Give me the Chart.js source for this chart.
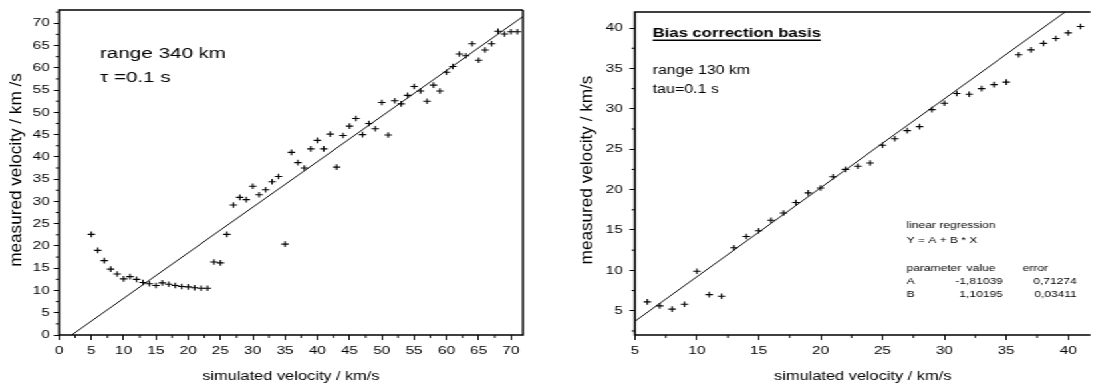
<!DOCTYPE html>
<html>
<head>
<meta charset="utf-8">
<script src="https://cdn.jsdelivr.net/npm/chart.js@4.4.0/dist/chart.umd.min.js"></script>
<style>
html, body { margin: 0; padding: 0; background: #fff; overflow: hidden; }
#wrap { position: absolute; left: 0; top: 0; width: 825px; height: 386px; transform: scaleX(1.33); transform-origin: 0 0; }
#left { position: absolute; left: 0; top: 0; }
#right { position: absolute; left: 421px; top: 0; }
</style>
</head>
<body>
<div id="wrap">
  <canvas id="left" width="414" height="386"></canvas>
  <canvas id="right" width="404" height="386"></canvas>
</div>
<script>
// left panel: range 340 km
const leftSimulated = [5, 6, 7, 8, 9, 10, 11, 12, 13, 14, 15, 16, 17, 18, 19, 20, 21, 22, 23, 24,
  25, 26, 27, 28, 29, 30, 31, 32, 33, 34, 35, 36, 37, 38, 39, 40, 41, 42, 43, 44,
  45, 46, 47, 48, 49, 50, 51, 52, 53, 54, 55, 56, 57, 58, 59, 60, 61, 62, 63, 64,
  65, 66, 67, 68, 69, 70, 71];
const leftMeasured = [22.6, 19.0, 16.7, 14.8, 13.7, 12.6, 13.1, 12.5, 11.8, 11.5, 11.1, 11.7, 11.4, 11.1, 10.9, 10.8, 10.6, 10.5, 10.5, 16.4,
  16.2, 22.6, 29.2, 30.9, 30.4, 33.4, 31.5, 32.6, 34.4, 35.6, 20.4, 41.0, 38.7, 37.5, 41.8, 43.7, 41.8, 45.1, 37.7, 44.8,
  46.9, 48.6, 45.0, 47.5, 46.3, 52.2, 44.9, 52.6, 51.9, 53.8, 55.8, 54.8, 52.5, 56.1, 54.8, 59.0, 60.3, 63.1, 62.7, 65.4,
  61.7, 64.0, 65.4, 68.2, 67.6, 68.1, 68.1];
const leftLineX = [1.96, 71.9];
const leftLineY = [0, 71.55];
const leftXTicks = [0, 5, 10, 15, 20, 25, 30, 35, 40, 45, 50, 55, 60, 65, 70];
const leftYTicks = [0, 5, 10, 15, 20, 25, 30, 35, 40, 45, 50, 55, 60, 65, 70];

// right panel: bias correction basis, range 130 km
const rightSimulated = [6, 7, 8, 9, 10, 11, 12, 13, 14, 15, 16, 17, 18, 19, 20, 21, 22, 23,
  24, 25, 26, 27, 28, 29, 30, 31, 32, 33, 34, 35, 36, 37, 38, 39, 40, 41];
const rightMeasured = [6.1, 5.6, 5.2, 5.8, 9.9, 7.0, 6.8, 12.8, 14.2, 14.9, 16.2, 17.1, 18.4, 19.6, 20.2, 21.6, 22.5, 22.9,
  23.3, 25.5, 26.3, 27.3, 27.8, 29.9, 30.7, 31.9, 31.8, 32.5, 33.0, 33.3, 36.7, 37.3, 38.1, 38.7, 39.4, 40.2];
const rightLineX = [5, 39.76];
const rightLineY = [3.70, 42];
const rightXTicks = [5, 10, 15, 20, 25, 30, 35, 40];
const rightYTicks = [5, 10, 15, 20, 25, 30, 35, 40];

const FONT = '"Liberation Sans", Arial, sans-serif';
Chart.defaults.font.family = FONT;
Chart.defaults.color = '#000';

function pairs(xs, ys) {
  return xs.map((x, i) => ({ x: x, y: ys[i] }));
}

// minor ticks half way between the labelled ones, plus the box round the plot
const framePlugin = {
  id: 'frame',
  afterDraw(chart, args, opts) {
    const { ctx, chartArea: a, scales } = chart;
    ctx.save();
    ctx.strokeStyle = '#000';
    ctx.lineWidth = 1;
    ['x', 'y'].forEach(id => {
      const s = scales[id];
      const vals = s.ticks.map(t => t.value);
      const step = vals[1] - vals[0];
      const minors = vals.map(v => v + step / 2).concat([vals[0] - step / 2]);
      minors.forEach(v => {
        if (v < s.min || v > s.max) return;
        const p = s.getPixelForValue(v);
        ctx.beginPath();
        if (id === 'x') {
          ctx.moveTo(p, a.bottom);
          ctx.lineTo(p, a.bottom + 3);
        } else {
          ctx.moveTo(a.left, p);
          ctx.lineTo(a.left - 2.5, p);
        }
        ctx.stroke();
      });
    });
    ctx.lineWidth = 1.5;
    ctx.beginPath();
    ctx.moveTo(a.right, a.top);
    ctx.lineTo(a.left, a.top);
    ctx.lineTo(a.left, a.bottom);
    ctx.lineTo(a.right, a.bottom);
    if (opts.closed) ctx.lineTo(a.right, a.top);
    ctx.stroke();
    ctx.restore();
  }
};

// text written inside the plot, and the rotated y title (drawn long, like the original font)
const notesPlugin = {
  id: 'notes',
  afterDraw(chart, args, opts) {
    const { ctx, chartArea: a } = chart;
    ctx.save();
    ctx.fillStyle = '#000';
    ctx.textBaseline = 'alphabetic';
    (opts.items || []).forEach(n => {
      ctx.font = n.font;
      ctx.textAlign = n.align || 'left';
      const x = a.left + n.dx;
      ctx.fillText(n.text, x, n.y);
      if (n.underline) {
        const w = ctx.measureText(n.text).width;
        ctx.lineWidth = 1.5;
        ctx.beginPath();
        ctx.moveTo(x, n.y + 3.5);
        ctx.lineTo(x + w, n.y + 3.5);
        ctx.stroke();
      }
    });
    if (opts.yTitle) {
      const t = opts.yTitle;
      ctx.translate(t.x, t.y);
      ctx.rotate(-Math.PI / 2);
      ctx.scale(t.stretch, 1);
      ctx.font = t.font;
      ctx.textAlign = 'center';
      ctx.textBaseline = 'middle';
      ctx.fillText(t.text, 0, 0);
    }
    ctx.restore();
  }
};

function makeChart(id, p) {
  return new Chart(document.getElementById(id), {
    type: 'scatter',
    data: {
      datasets: [{
        data: pairs(p.xs, p.ys),
        pointStyle: 'cross',
        pointRadius: 2.8,
        pointBorderWidth: 1.1,
        borderColor: '#000',
        backgroundColor: '#000'
      }, {
        data: pairs(p.lineX, p.lineY),
        showLine: true,
        pointRadius: 0,
        borderWidth: 1,
        borderColor: '#000'
      }]
    },
    options: {
      responsive: false,
      animation: false,
      devicePixelRatio: 1,
      layout: { padding: p.padding },
      plugins: {
        legend: { display: false },
        tooltip: { enabled: false },
        frame: { closed: p.closed },
        notes: {
          items: p.notes,
          yTitle: { text: p.yTitle, x: p.yTitleX, y: 170, stretch: 1.43, font: '12px ' + FONT }
        }
      },
      scales: {
        x: {
          min: p.xMin, max: p.xMax,
          border: { display: false },
          grid: { drawOnChartArea: false, tickLength: 5, color: '#000' },
          ticks: { font: { size: 11.5 }, padding: 4, maxRotation: 0 },
          afterBuildTicks: s => { s.ticks = p.xTicks.map(v => ({ value: v })); },
          afterFit: s => { s.height = 51; },
          title: { display: true, text: 'simulated velocity / km/s', font: { size: 12.3 }, padding: { top: 0, bottom: 2 } }
        },
        y: {
          min: p.yMin, max: p.yMax,
          border: { display: false },
          grid: { drawOnChartArea: false, tickLength: 4, color: '#000' },
          ticks: { font: { size: 11.5 }, padding: p.yPad },
          afterBuildTicks: s => { s.ticks = p.yTicks.map(v => ({ value: v })); },
          afterFit: s => { s.width = p.yWidth; },
          title: { display: false }
        }
      }
    },
    plugins: [framePlugin, notesPlugin]
  });
}

const small = '9px ' + FONT;

makeChart('left', {
  xs: leftSimulated, ys: leftMeasured, lineX: leftLineX, lineY: leftLineY,
  xTicks: leftXTicks, yTicks: leftYTicks,
  xMin: 0, xMax: 71.86, yMin: 0, yMax: 73,
  padding: { top: 9.5, right: 20.8, left: 0, bottom: 0 },
  yWidth: 44.4, yPad: 3, yTitleX: 12.8, closed: true,
  yTitle: 'measured velocity / km /s',
  notes: [
    { text: 'range 340 km', dx: 30.8, y: 58, font: '15.5px ' + FONT },
    { text: '\u03c4 =0.1 s', dx: 30.8, y: 82, font: '15.5px ' + FONT }
  ]
});

makeChart('right', {
  xs: rightSimulated, ys: rightMeasured, lineX: rightLineX, lineY: rightLineY,
  xTicks: rightXTicks, yTicks: rightYTicks,
  xMin: 5, xMax: 41.8, yMin: 2, yMax: 42,
  padding: { top: 9.5, right: 0, left: 0, bottom: 0 },
  yWidth: 56.4, yPad: 5, yTitleX: 21.1, closed: false,
  yTitle: 'measured velocity / km/s',
  notes: [
    { text: 'Bias correction basis', dx: 13.3, y: 36.7, font: 'bold 12.5px ' + FONT, underline: true },
    { text: 'range 130 km', dx: 13.3, y: 74, font: '12px ' + FONT },
    { text: 'tau=0.1 s', dx: 13.3, y: 93, font: '12px ' + FONT },
    { text: 'linear regression', dx: 204.3, y: 228.3, font: small },
    { text: 'Y = A + B * X', dx: 204.3, y: 243.3, font: small },
    { text: 'parameter', dx: 204.3, y: 270.7, font: small },
    { text: 'value', dx: 249.4, y: 270.7, font: small },
    { text: 'error', dx: 291.5, y: 270.7, font: small },
    { text: 'A', dx: 204.3, y: 284, font: small },
    { text: '-1,81039', dx: 276.5, y: 284, font: small, align: 'right' },
    { text: '0,71274', dx: 332.1, y: 284, font: small, align: 'right' },
    { text: 'B', dx: 204.3, y: 297.3, font: small },
    { text: '1,10195', dx: 276.5, y: 297.3, font: small, align: 'right' },
    { text: '0,03411', dx: 332.1, y: 297.3, font: small, align: 'right' }
  ]
});
</script>
</body>
</html>
